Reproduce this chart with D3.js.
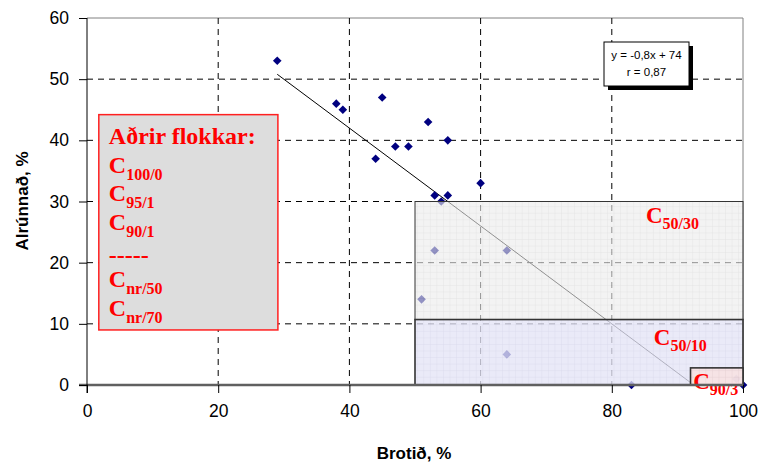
<!DOCTYPE html>
<html>
<head>
<meta charset="utf-8">
<script src="https://cdn.jsdelivr.net/npm/d3@7"></script>
<style>
  body { margin: 0; background: #fff; }
  svg text { font-family: "Liberation Sans", Arial, sans-serif; }
  .serif { font-family: "Liberation Serif", "Times New Roman", serif !important; font-weight: bold; fill: #ff0000; }
</style>
</head>
<body>
<div class="chart"></div>
<script>
// data
var brotid   = [29, 38, 39, 45, 44, 47, 49, 52, 55, 60, 53, 55, 54, 53, 64, 51, 64, 83, 100, 99]
  , alrunnad = [53, 46, 45, 47, 37, 39, 39, 43, 40, 33, 31, 31, 30, 22, 22, 14, 5, 0, 0, 1];

var slope = -0.8
  , intercept = 74
  , rValue = '0,87'
  , fitRange = [29, 92.5];

// class boxes
var regionNames = ['50/30', '50/10', '90/3']
  , regionX0 = [50, 50, 92]
  , regionX1 = [100, 100, 100]
  , regionY0 = [10.7, 0, 0]
  , regionY1 = [30, 10.7, 2.8]
  , regionFill = ['#ececec', '#e4e4f6', '#f8e2e2']
  , regionGrid = ['#cfcfcf', '#cfcfe6', '#e6cccc']
  , regionOpacity = [0.62, 0.78, 0.85]
  , labelX = [85.2, 86.4, 92.4]
  , labelY = [26.5, 6.6, -0.7];

var otherTitle = 'Aðrir flokkar:'
  , otherClasses = ['100/0', '95/1', '90/1', '-----', 'nr/50', 'nr/70'];

var xTicks = [0, 20, 40, 60, 80, 100]
  , yTicks = [0, 10, 20, 30, 40, 50, 60];

// Graph variables
var w = 764
  , h = 467
  , margin = { top: 18, left: 87, right: 21, bottom: 82 }
  , pw = w - margin.left - margin.right
  , ph = h - margin.top - margin.bottom;

var svg = d3.select('.chart')
            .append('svg')
            .attr('width', w)
            .attr('height', h);

var x = d3.scaleLinear().domain([0, 100]).range([0, pw]);
var y = d3.scaleLinear().domain([0, 60]).range([ph, 0]);

var g = svg.append('g').attr('transform', 'translate(' + margin.left + ',' + margin.top + ')');

// plot frame (grey top/right)
g.append('path')
  .attr('d', 'M0,0H' + pw + 'V' + ph)
  .attr('fill', 'none')
  .attr('stroke', '#808080')
  .attr('stroke-width', 1);

// dashed grid
g.selectAll('line.vgrid')
  .data(xTicks.filter(function (d) { return d > 0 && d < 100; }))
  .enter().append('line')
  .attr('class', 'vgrid')
  .attr('x1', function (d) { return x(d); })
  .attr('x2', function (d) { return x(d); })
  .attr('y1', 0).attr('y2', ph)
  .attr('stroke', '#000').attr('stroke-dasharray', '6,5');

g.selectAll('line.hgrid')
  .data(yTicks.filter(function (d) { return d > 0 && d < 60; }))
  .enter().append('line')
  .attr('class', 'hgrid')
  .attr('x1', 0).attr('x2', pw)
  .attr('y1', function (d) { return y(d); })
  .attr('y2', function (d) { return y(d); })
  .attr('stroke', '#000').attr('stroke-dasharray', '6,5');

// "other classes" box
var lx = x(1.8), ly = y(44.2);
g.append('rect')
  .attr('x', lx).attr('y', ly)
  .attr('width', x(27.3) - x(0)).attr('height', y(9) - y(44.2))
  .attr('fill', '#dddddd')
  .attr('stroke', '#ff2020').attr('stroke-width', 1.5);

var legText = g.append('g').attr('transform', 'translate(' + (lx + 10) + ',' + ly + ')');
legText.append('text')
  .attr('class', 'serif')
  .attr('y', 29)
  .style('font-size', '24px')
  .text(otherTitle);

otherClasses.forEach(function (c, i) {
  var dash = c.charAt(0) === '-';
  var t = legText.append('text')
    .attr('class', 'serif')
    .attr('y', 58 + i * 28.6 + (dash ? 5 : 0))
    .style('font-size', '24px');
  if (dash) {
    t.text(c);
  } else {
    t.append('tspan').text('C');
    t.append('tspan').attr('dy', 7).style('font-size', '16px').text(c);
  }
});

// fitted line
g.append('line')
  .attr('x1', x(fitRange[0])).attr('y1', y(slope * fitRange[0] + intercept))
  .attr('x2', x(fitRange[1])).attr('y2', y(Math.max(0, slope * fitRange[1] + intercept)))
  .attr('stroke', '#000').attr('stroke-width', 1);

// points
g.selectAll('path.pt')
  .data(brotid)
  .enter().append('path')
  .attr('class', 'pt')
  .attr('d', 'M0,-4.3L4.3,0L0,4.3L-4.3,0Z')
  .attr('transform', function (d, i) { return 'translate(' + x(d) + ',' + y(alrunnad[i]) + ')'; })
  .attr('fill', '#000080');

// patterns for the class boxes
var defs = svg.append('defs')
  , cell = x(1) - x(0);

regionNames.forEach(function (n, i) {
  var p = defs.append('pattern')
    .attr('id', 'pat' + i)
    .attr('patternUnits', 'userSpaceOnUse')
    .attr('x', margin.left).attr('y', margin.top + ph)
    .attr('width', cell).attr('height', cell);
  p.append('rect').attr('width', cell).attr('height', cell).attr('fill', regionFill[i]);
  p.append('path')
    .attr('d', 'M0,0H' + cell + 'M0,0V' + cell)
    .attr('stroke', regionGrid[i]).attr('stroke-width', 0.8);
});

var boxes = g.selectAll('g.region')
  .data(regionNames)
  .enter().append('g')
  .attr('class', 'region');

boxes.append('rect')
  .attr('x', function (d, i) { return x(regionX0[i]); })
  .attr('y', function (d, i) { return y(regionY1[i]); })
  .attr('width', function (d, i) { return x(regionX1[i]) - x(regionX0[i]); })
  .attr('height', function (d, i) { return y(regionY0[i]) - y(regionY1[i]); })
  .attr('fill', function (d, i) { return 'url(#pat' + i + ')'; })
  .attr('fill-opacity', function (d, i) { return regionOpacity[i]; })
  .attr('stroke', '#333')
  .attr('stroke-width', function (d, i) { return i === 0 ? 1 : 1.6; });

boxes.append('text')
  .attr('class', 'serif')
  .attr('x', function (d, i) { return x(labelX[i]); })
  .attr('y', function (d, i) { return y(labelY[i]); })
  .style('font-size', '23px')
  .each(function (d) {
    var t = d3.select(this);
    t.append('tspan').text('C');
    t.append('tspan').attr('dy', 6).style('font-size', '16px').text(d);
  });

// axes
var xAxis = g.append('g')
  .attr('transform', 'translate(0,' + ph + ')')
  .call(d3.axisBottom(x).tickValues(xTicks).tickSize(8).tickPadding(12));
xAxis.select('.domain').attr('d', 'M-8,0H' + pw).attr('stroke', '#606060').attr('stroke-width', 2.5);
xAxis.selectAll('text').style('font-size', '17.5px').attr('fill', '#000');

var yAxis = g.append('g')
  .call(d3.axisLeft(y).tickValues(yTicks).tickSize(8).tickPadding(10));
yAxis.select('.domain').attr('d', 'M0,0V' + (ph + 8)).attr('stroke', '#000');
yAxis.selectAll('text').style('font-size', '17.5px').attr('fill', '#000');

// axis titles
svg.append('text')
  .attr('x', 414)
  .attr('y', 459)
  .attr('text-anchor', 'middle')
  .style('font-size', '17px').style('font-weight', 'bold')
  .text('Brotið, %');

svg.append('text')
  .attr('transform', 'translate(28,201) rotate(-90)')
  .attr('text-anchor', 'middle')
  .style('font-size', '17px').style('font-weight', 'bold')
  .text('Alrúnnað, %');

// equation box
var ex = 604, ey = 42, ew = 85, eh = 44;
svg.append('rect')
  .attr('x', ex + 4).attr('y', ey + 4).attr('width', ew).attr('height', eh)
  .attr('fill', '#000');
svg.append('rect')
  .attr('x', ex).attr('y', ey).attr('width', ew).attr('height', eh)
  .attr('fill', '#fff').attr('stroke', '#000').attr('stroke-width', 1);
svg.append('text')
  .attr('x', ex + ew / 2).attr('y', ey + 17)
  .attr('text-anchor', 'middle')
  .style('font-size', '11.5px')
  .text('y = ' + String(slope).replace('.', ',') + 'x + ' + intercept);
svg.append('text')
  .attr('x', ex + ew / 2).attr('y', ey + 34)
  .attr('text-anchor', 'middle')
  .style('font-size', '11.5px')
  .text('r = ' + rValue);
</script>
</body>
</html>
